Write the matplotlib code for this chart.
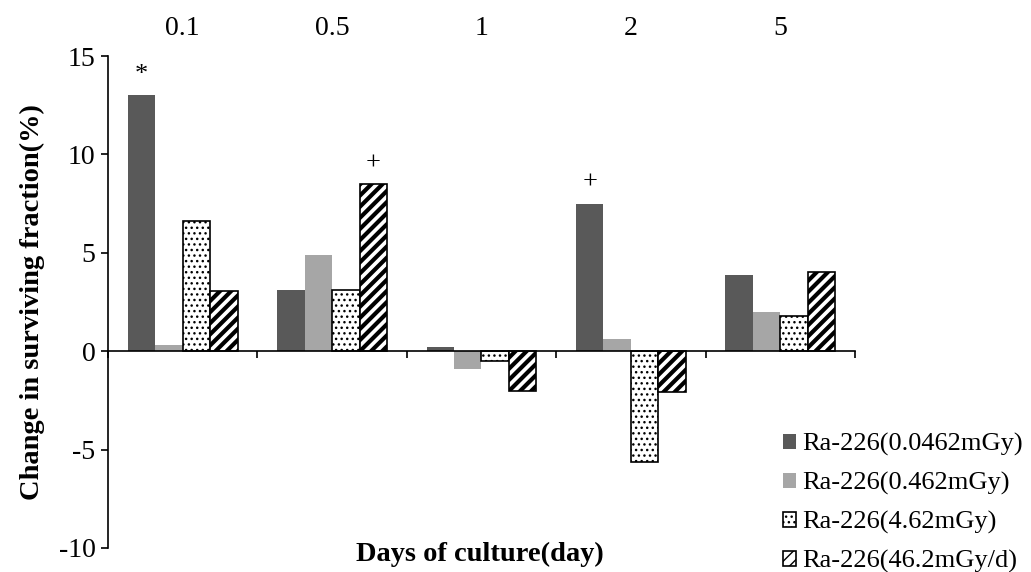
import matplotlib
matplotlib.use("Agg")
import matplotlib.pyplot as plt
import numpy as np

plt.rcParams['font.family'] = ['Liberation Serif', 'DejaVu Serif']
plt.rcParams['axes.unicode_minus'] = False

days = ['0.1', '0.5', '1', '2', '5']
series = ['Ra-226(0.0462mGy)', 'Ra-226(0.462mGy)', 'Ra-226(4.62mGy)', 'Ra-226(46.2mGy/d)']
v1 = [13.0, 3.1, 0.2, 7.5, 3.85]
v2 = [0.3, 4.9, -0.9, 0.6, 2.0]
v3 = [6.6, 3.1, -0.5, -5.65, 1.8]
v4 = [3.05, 8.5, -2.0, -2.05, 4.05]
marks = [(0, 0, '*'), (1, 3, '+'), (3, 0, '+')]

fig = plt.figure(figsize=(10.31, 5.72), dpi=100)
ax = fig.add_axes([0.1048, 0.042, 0.7244, 0.860])

x = np.arange(len(days))
w = 0.184
styles = [
    dict(color='#595959', edgecolor='#595959', hatch=None, lw=0),
    dict(color='#a6a6a6', edgecolor='#a6a6a6', hatch=None, lw=0),
    dict(color='white', edgecolor='black', hatch='...', lw=1.2),
    dict(color='white', edgecolor='black', hatch='///', lw=1.2),
]
allv = [v1, v2, v3, v4]
for i, (vals, st) in enumerate(zip(allv, styles)):
    bars = ax.bar(x + (i - 1.5) * w, vals, w, color=st['color'], edgecolor=st['edgecolor'],
                  hatch=st['hatch'], linewidth=st['lw'], label=series[i])
    if i == 3:
        for b in bars:
            if hasattr(b, 'set_hatch_linewidth'):
                b.set_hatch_linewidth(3)

for g, s, m in marks:
    ax.text(g + (s - 1.5) * w, allv[s][g] + 0.5, m, ha='center', va='bottom', fontsize=19)

ax.set_xlim(-0.5, 4.5)
ax.set_ylim(-10, 15)
ax.set_yticks([-10, -5, 0, 5, 10, 15])
ax.tick_params(axis='y', labelsize=20, direction='out', length=5, width=1.2, pad=4)
ax.spines['top'].set_visible(False)
ax.spines['right'].set_visible(False)
ax.spines['bottom'].set_position(('data', 0))
ax.spines['left'].set_linewidth(1.2)
ax.spines['bottom'].set_linewidth(1.2)
ax.set_xticks(np.arange(-0.5, 5, 1))
ax.set_xticklabels([])
ax.tick_params(axis='x', direction='out', length=5, width=1.2)

for i, d in enumerate(days):
    ax.text(i, 1.03, d, transform=ax.get_xaxis_transform(), ha='center', va='bottom', fontsize=20)

ax.set_ylabel('Change in surviving fraction(%)', fontsize=20.5, fontweight='bold', labelpad=10)
fig.text(0.465, 0.008, 'Days of culture(day)', ha='center', va='bottom', fontsize=20.5, fontweight='bold')

ax.legend(loc='upper left', bbox_to_anchor=(0.759, 0.243), bbox_transform=fig.transFigure,
          frameon=False, fontsize=19, borderpad=0, borderaxespad=0,
          handlelength=0.5, handleheight=0.5, handletextpad=0.25, labelspacing=0.6)

fig.savefig('out.png', dpi=100)
